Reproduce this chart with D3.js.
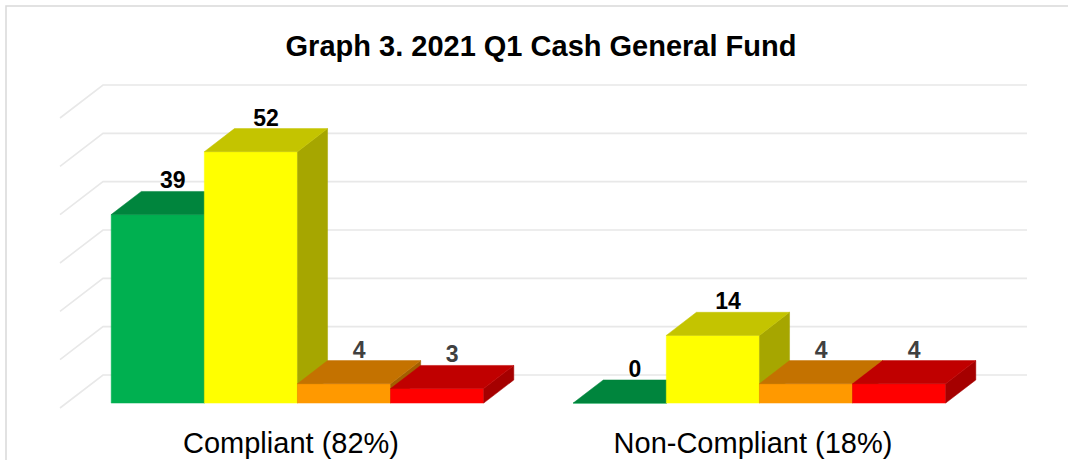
<!DOCTYPE html>
<html>
<head>
<meta charset="utf-8">
<script src="https://cdn.jsdelivr.net/npm/d3@7"></script>
<style>
  body { margin: 0; background: #fff; }
  text { font-family: "Liberation Sans", Arial, sans-serif; }
</style>
</head>
<body>
<script>
// data
const categories = ["Compliant (82%)", "Non-Compliant (18%)"];
const seriesNames = ["Green", "Yellow", "Orange", "Red"];
const greenVals = [39, 0];
const yellowVals = [52, 14];
const orangeVals = [4, 4];
const redVals = [3, 4];
const yTicks = [0, 10, 20, 30, 40, 50, 60];

const seriesVals = [greenVals, yellowVals, orangeVals, redVals];
const faceColors = [
  {front: "#00B050", top: "#00853D", side: "#007434", label: "#000"},
  {front: "#FFFF00", top: "#C4C400", side: "#A6A600", label: "#000"},
  {front: "#FF9900", top: "#C47200", side: "#A35F00", label: "#404040"},
  {front: "#FF0000", top: "#C00000", side: "#A50000", label: "#404040"}
];

const width = 1068, height = 460;
const svg = d3.select("body").append("svg")
    .attr("width", width)
    .attr("height", height);

// chart border
svg.append("rect")
    .attr("x", 6).attr("y", 6)
    .attr("width", width + 10).attr("height", height + 10)
    .attr("fill", "none")
    .attr("stroke", "#d9d9d9")
    .attr("stroke-width", 1.5);

// 3d frame
const floorLeft = 60, floorRight = 984, baseY = 408;
const depth = [43, -33];
const d0 = 0.15, d1 = 0.85;   // bar depth inside the floor

const y = d3.scaleLinear().domain([0, 60]).range([0, 290]);
const x0 = d3.scaleBand().domain(categories)
    .range([floorLeft, floorRight])
    .paddingInner(0.1937).paddingOuter(0.0969);
const x1 = d3.scaleBand().domain(seriesNames).range([0, x0.bandwidth()]);

const proj = (x, v, d) => [x + d * depth[0], baseY - y(v) + d * depth[1]];
const poly = pts => "M" + pts.map(p => p.join(",")).join("L") + "Z";

// gridlines (left wall + back wall)
const grid = svg.append("g")
    .attr("stroke", "#e8e8e8")
    .attr("stroke-width", 1.6)
    .attr("fill", "none");
yTicks.forEach(v => {
  const a = proj(floorLeft, v, 0), b = proj(floorLeft, v, 1), c = proj(floorRight, v, 1);
  grid.append("path").attr("d", "M" + a + "L" + b + "L" + c);
});

// bars
const bars = svg.append("g");
const labels = [];
categories.forEach((cat, i) => {
  seriesNames.forEach((s, j) => {
    const v = seriesVals[j][i];
    const xl = x0(cat) + x1(s), w = x1.bandwidth();
    const col = faceColors[j];
    const front = [proj(xl, 0, d0), proj(xl + w, 0, d0), proj(xl + w, v, d0), proj(xl, v, d0)];
    const side = [proj(xl + w, 0, d0), proj(xl + w, 0, d1), proj(xl + w, v, d1), proj(xl + w, v, d0)];
    const top = [proj(xl, v, d0), proj(xl + w, v, d0), proj(xl + w, v, d1), proj(xl, v, d1)];
    bars.append("path").attr("d", poly(front)).attr("fill", col.front)
        .attr("stroke", col.front).attr("stroke-width", 0.5);
    bars.append("path").attr("d", poly(side)).attr("fill", col.side)
        .attr("stroke", col.side).attr("stroke-width", 0.5);
    bars.append("path").attr("d", poly(top)).attr("fill", col.top)
        .attr("stroke", col.top).attr("stroke-width", 0.5);
    labels.push({v: v, x: proj(xl + w / 2, v, 0.5)[0], y: proj(xl, v, d1)[1] - 3, color: col.label});
  });
});

svg.append("g").selectAll("text")
    .data(labels)
    .enter().append("text")
    .attr("x", d => d.x)
    .attr("y", d => d.y)
    .attr("text-anchor", "middle")
    .attr("font-size", 23)
    .attr("font-weight", "bold")
    .attr("fill", d => d.color)
    .text(d => d.v);

// category labels
svg.append("g").selectAll("text")
    .data(categories)
    .enter().append("text")
    .attr("x", d => x0(d) + x0.bandwidth() / 2)
    .attr("y", 453)
    .attr("text-anchor", "middle")
    .attr("font-size", 29)
    .attr("fill", "#000")
    .text(d => d);

// title
svg.append("text")
    .attr("x", 541)
    .attr("y", 56)
    .attr("text-anchor", "middle")
    .attr("font-size", 29)
    .attr("font-weight", "bold")
    .attr("fill", "#000")
    .text("Graph 3. 2021 Q1 Cash General Fund");
</script>
</body>
</html>
